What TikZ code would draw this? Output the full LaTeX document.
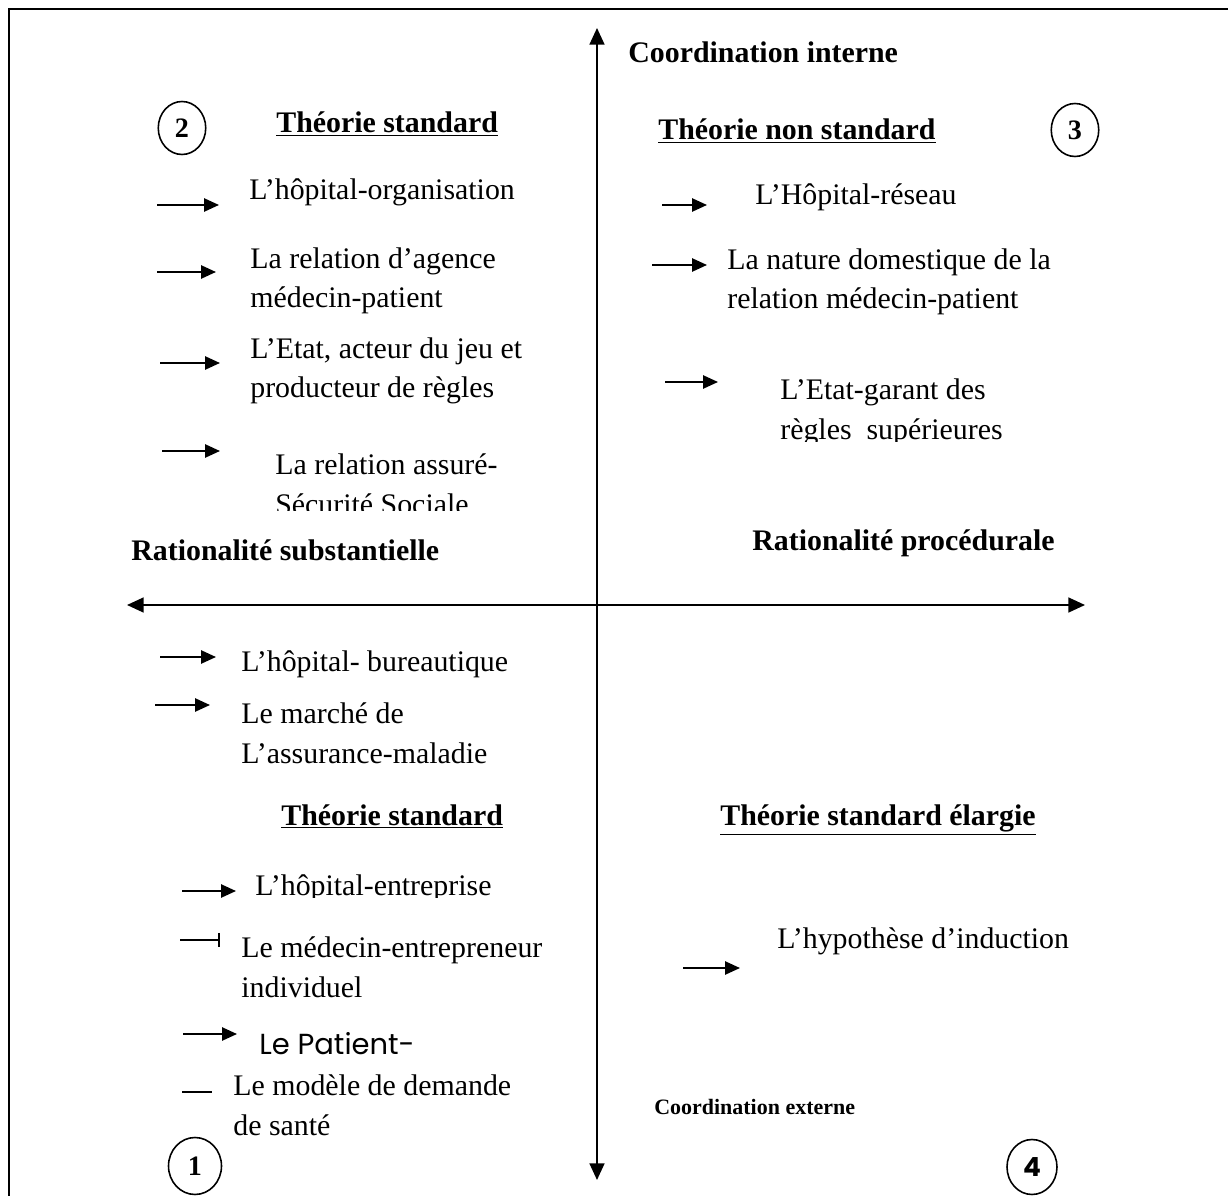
\documentclass[tikz,border=0pt]{standalone}
\usepackage{fontspec}
\setmainfont{Liberation Serif}
\newfontfamily\gothicfont{Poppins}
\usetikzlibrary{arrows.meta,shapes.geometric}
\tikzset{
  axis/.style={line width=1.1pt,{Triangle[length=9.5pt,width=8.5pt]}-{Triangle[length=9.5pt,width=8.5pt]}},
  pointer/.style={line width=1.1pt,-{Triangle[length=8.5pt,width=7.5pt]}},
  item/.style={anchor=base west,inner sep=0pt,align=left,font=\fontsize{17}{22.5}\selectfont},
  title/.style={item,font=\fontsize{17}{22.5}\selectfont\bfseries},
  quadnum/.style={draw,ellipse,line width=0.9pt,minimum width=0.95cm,minimum height=1.06cm,inner sep=0pt,font=\fontsize{16}{18}\selectfont\bfseries},
}
\begin{document}
\begin{tikzpicture}[x=0.02cm,y=-0.02cm]
  \useasboundingbox (0,0) rectangle (1228,1196);
  % frame
  \coordinate (fr) at (1228,9);
  \coordinate (fc) at (9,9);
  \coordinate (fb) at (9,1196);
  \draw[line width=1.6pt] (fr) -- (fc) -- (fb);
  % axes
  \coordinate (vtop) at (597,28);
  \coordinate (vbot) at (597,1180);
  \coordinate (hleft) at (127,605);
  \coordinate (hright) at (1085,605);
  \draw[axis] (vtop) -- (vbot);
  \draw[axis] (hleft) -- (hright);

  \node[title] (cint) at (628,63) {Coordination interne};
  \node[title,font=\fontsize{12.5}{15}\selectfont\bfseries] (cext) at (654,1114) {Coordination externe};
  \node[title] (rsub) at (131,560) {Rationalité substantielle};
  \node[title] (rproc) at (752,550) {Rationalité procédurale};

  \node[quadnum] (q2) at (182,128) {2};
  \node[quadnum] (q3) at (1075,130) {3};
  \node[quadnum,minimum width=1.06cm,minimum height=1.14cm] (q1) at (195,1166) {1};
  \node[quadnum,minimum width=1.0cm,minimum height=1.1cm,font=\gothicfont\fontsize{15}{17}\selectfont\bfseries] (q4) at (1032,1167) {4};

  % quadrant 2
  \node[title] (ts2) at (276,133) {\underline{Théorie standard}};
  \node[item] (org) at (249,200) {L’hôpital-organisation};
  \node[item] (agence) at (250,308) {La relation d’agence\\médecin-patient};
  \node[item] (etat) at (250,398) {L’Etat, acteur du jeu et\\producteur de règles};
  \begin{scope}
    \clip (260,440) rectangle (560,510);
    \node[item] (assure) at (275,514) {La relation assuré-\\Sécurité Sociale};
  \end{scope}

  % quadrant 3
  \node[title] (tns) at (658,140) {\underline{Théorie non standard}};
  \node[item] (reseau) at (755,205) {L’Hôpital-réseau};
  \node[item] (domest) at (727,309) {La nature domestique de la\\relation médecin-patient};
  \begin{scope}
    \clip (760,370) rectangle (1060,441);
    \node[item] (garant) at (780,439) {L’Etat-garant des\\règles\ \ supérieures};
  \end{scope}

  % quadrant 1
  \node[item] (bureau) at (241,671) {L’hôpital- bureautique};
  \node[item] (marche) at (241,763) {Le marché de\\L’assurance-maladie};
  \node[title] (ts1) at (281,825) {\underline{Théorie standard}};
  \begin{scope}
    \clip (240,860) rectangle (560,897);
    \node[item] (entrep) at (255,895) {L’hôpital-entreprise};
  \end{scope}
  \node[item] (medent) at (241,997) {Le médecin-entrepreneur\\individuel};
  \node[item,font=\gothicfont\fontsize{16.5}{20}\selectfont] (patient) at (259,1054) {Le Patient-};
  \node[item] (demande) at (233,1135) {Le modèle de demande\\de santé};

  % quadrant 4
  \node[title] (tse) at (720,825) {\underline{Théorie standard élargie}};
  \node[item] (induct) at (777,948) {L’hypothèse d’induction};

  % pointers
  \foreach \n/\xa/\xb/\y in {1/157/219/205, 2/157/216/272, 3/160/220/363, 4/162/220/451,
      5/662/707/205, 6/652/707/265, 7/665/718/382, 8/160/216/657, 9/155/210/705,
      10/182/236/891, 11/183/237/1034, 12/683/740/968} {
    \coordinate (p\n s) at (\xa,\y);
    \coordinate (p\n e) at (\xb,\y);
    \draw[pointer] (p\n s) -- (p\n e);
  }
  \coordinate (tees) at (180,940);
  \coordinate (teee) at (220,940);
  \draw[line width=1.1pt,-{Bar[width=8pt]}] (tees) -- (teee);
  \coordinate (dashs) at (182,1092);
  \coordinate (dashe) at (212,1092);
  \draw[line width=1.1pt] (dashs) -- (dashe);
\end{tikzpicture}
\end{document}
